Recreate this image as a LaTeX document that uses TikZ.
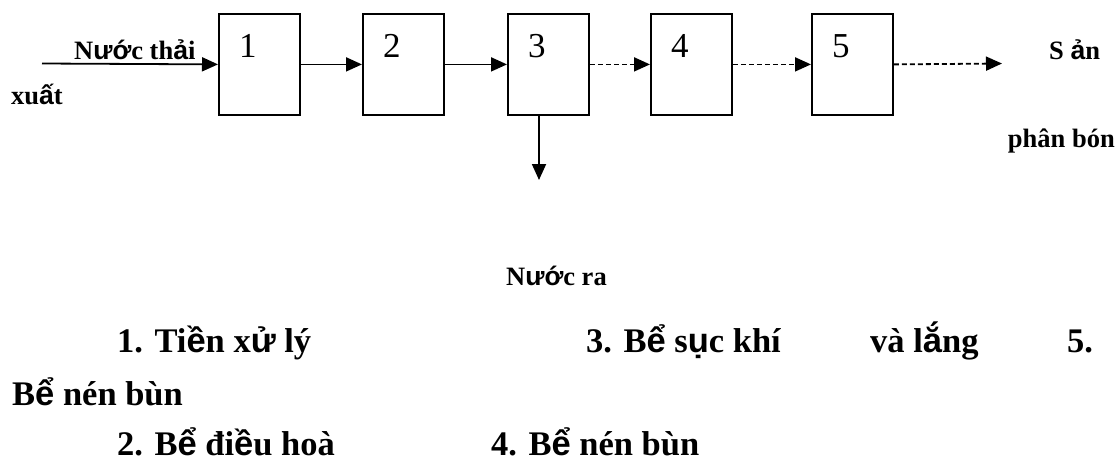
\documentclass[tikz,border=0pt]{standalone}
\usepackage{fontspec}
\setmainfont{Liberation Serif}
\newfontfamily\vnsans{Liberation Sans}
\usetikzlibrary{arrows.meta,calc}
% accented letters set in the sans face, as in the source document
\newcommand{\vs}[1]{{\vnsans\bfseries #1}}

\begin{document}
\begin{tikzpicture}[x=1pt,y=-1pt,
  tank/.style={draw, line width=1.8pt, minimum width=81pt, minimum height=101pt,
               inner sep=0pt, anchor=north west},
  flow/.style={line width=1.8pt, -{Triangle[length=16pt,width=14pt]}},
  dflow/.style={flow, dash pattern=on 5pt off 3pt},
  num/.style={font=\fontsize{35}{35}\selectfont, anchor=base west, inner sep=0pt},
  lbl/.style={font=\fontsize{26.5}{26.5}\selectfont\bfseries, anchor=base west, inner sep=0pt},
  legend/.style={font=\fontsize{34.5}{34.5}\selectfont\bfseries, anchor=base west, inner sep=0pt}]

\useasboundingbox (0,0) rectangle (1120,464);

% treatment units
\node[tank] (b1) at (218,13) {};
\node[tank] (b2) at (362,13) {};
\node[tank] (b3) at (507,13) {};
\node[tank] (b4) at (650,13) {};
\node[tank] (b5) at (811,13) {};

\foreach \i in {1,...,5}
  \node[num] (n\i) at ([xshift=21pt,yshift=-44pt]b\i.north west) {\i};

% flow line
\coordinate (in) at (42,63.5);
\coordinate (prod) at (1002,63.5);
\coordinate (out) at (539,180);
\coordinate (b3s) at (539,114);

\draw[flow] (in) -- (b1.west);
\draw[flow] (b1.east) -- (b2.west);
\draw[flow] (b2.east) -- (b3.west);
\draw[dflow] (b3.east) -- (b4.west);
\draw[dflow] (b4.east) -- (b5.west);
\draw[dflow] (b5.east) -- (prod);
\draw[flow] (b3s) -- (out);

% labels around the line
\node[lbl] (win) at (74,59) {N\vs{ư}\vs{ớ}c th\vs{ả}i};
\node[lbl] (wx) at (11,104) {xu\vs{ấ}t};
\node[lbl] (sp1) at (1049,59) {S \vs{ả}n};
\node[lbl, anchor=base east] (sp2) at (1115,147) {phân bón};
\node[lbl] (wout) at (506,285) {N\vs{ư}\vs{ớ}c ra};

% legend
\node[legend] (l1) at (117,352) {1. Ti\vs{ề}n x\vs{ử} lý};
\node[legend] (l3) at (586,352) {3. B\vs{ể} s\vs{ụ}c khí};
\node[legend] (l3b) at (870,352) {và l\vs{ắ}ng};
\node[legend] (l5) at (1067,352) {5.};
\node[legend] (l5b) at (12,405) {B\vs{ể} nén bùn};
\node[legend] (l2) at (117,455) {2. B\vs{ể} đi\vs{ề}u hoà};
\node[legend] (l4) at (491,455) {4. B\vs{ể} nén bùn};
\end{tikzpicture}
\end{document}
